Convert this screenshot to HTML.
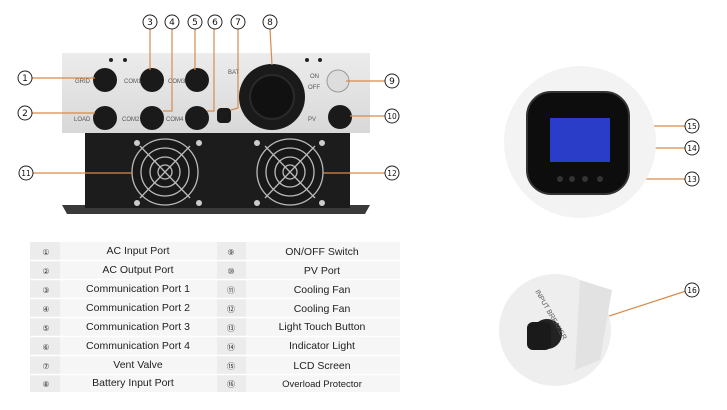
<!DOCTYPE html>
<html><head><meta charset="utf-8"><style>
html,body{margin:0;padding:0;background:#fff;}
svg{display:block;font-family:"Liberation Sans",sans-serif;}
</style></head><body>
<svg width="727" height="410" viewBox="0 0 727 410" xmlns="http://www.w3.org/2000/svg">
<defs>
<radialGradient id="fan" cx="50%" cy="50%" r="50%"><stop offset="0" stop-color="#222"/><stop offset="1" stop-color="#111"/></radialGradient>
<linearGradient id="panel" x1="0" y1="0" x2="0" y2="1"><stop offset="0" stop-color="#ececec"/><stop offset="1" stop-color="#d8d8d8"/></linearGradient>
</defs>
<!-- base -->
<polygon points="62,205 370,205 365,214 67,214" fill="#3a3a3a"/>
<rect x="85" y="133" width="265" height="75" fill="#1c1c1c"/>
<rect x="62" y="53" width="308" height="80" fill="url(#panel)"/>
<circle cx="111" cy="60" r="2" fill="#222"/><circle cx="125" cy="60" r="2" fill="#222"/>
<circle cx="307" cy="60" r="2" fill="#222"/><circle cx="320" cy="60" r="2" fill="#222"/>
<!-- fans -->
<g stroke="#bbb" stroke-width="1.3" fill="none">
<circle cx="165" cy="172" r="33" fill="#181818"/><circle cx="165" cy="172" r="24"/><circle cx="165" cy="172" r="15"/><circle cx="165" cy="172" r="7"/>
<line x1="140" y1="146" x2="190" y2="198"/><line x1="190" y1="146" x2="140" y2="198"/>
<circle cx="290" cy="172" r="33" fill="#181818"/><circle cx="290" cy="172" r="24"/><circle cx="290" cy="172" r="15"/><circle cx="290" cy="172" r="7"/>
<line x1="265" y1="146" x2="315" y2="198"/><line x1="315" y1="146" x2="265" y2="198"/>
</g>
<g fill="#ccc"><circle cx="137" cy="143" r="3"/><circle cx="199" cy="143" r="3"/><circle cx="137" cy="203" r="3"/><circle cx="199" cy="203" r="3"/>
<circle cx="257" cy="143" r="3"/><circle cx="322" cy="143" r="3"/><circle cx="257" cy="203" r="3"/><circle cx="322" cy="203" r="3"/></g>
<!-- ports -->
<g fill="#1a1a1a">
<circle cx="105" cy="80" r="12"/><circle cx="152" cy="80" r="12"/><circle cx="197" cy="80" r="12"/>
<circle cx="105" cy="118" r="12"/><circle cx="152" cy="118" r="12"/><circle cx="197" cy="118" r="12"/>
<rect x="217" y="108" width="14" height="15" rx="4"/>
<circle cx="272" cy="97" r="33"/><circle cx="340" cy="117" r="12"/>
</g>
<circle cx="272" cy="97" r="22" fill="#111" stroke="#2a2a2a" stroke-width="2"/>
<circle cx="338" cy="81" r="11" fill="#ddd" stroke="#999"/>
<g font-size="6" fill="#555">
<text x="75" y="83">GRID</text><text x="124" y="83">COM1</text><text x="168" y="83">COM3</text>
<text x="74" y="121">LOAD</text><text x="122" y="121">COM2</text><text x="166" y="121">COM4</text>
<text x="228" y="74">BAT</text><text x="310" y="78">ON</text><text x="308" y="89">OFF</text><text x="308" y="121">PV</text>
</g>
<!-- callout lines -->
<g stroke="#d98a4a" stroke-width="1.2" fill="none">
<line x1="32" y1="78" x2="95" y2="78"/><line x1="32" y1="113" x2="95" y2="113"/>
<line x1="150" y1="29" x2="150" y2="70"/><polyline points="172,29 172,111 163,111"/>
<line x1="195" y1="29" x2="195" y2="70"/><polyline points="214,29 214,111 207,111"/>
<polyline points="238,29 238,108 231,110"/><line x1="270" y1="29" x2="272" y2="65"/>
<line x1="346" y1="81" x2="385" y2="81"/><line x1="350" y1="116" x2="385" y2="116"/>
<line x1="33" y1="173" x2="132" y2="173"/><line x1="323" y1="173" x2="385" y2="173"/>
<line x1="600" y1="126" x2="685" y2="126"/><line x1="622" y1="148" x2="685" y2="148"/>
<line x1="610" y1="179" x2="685" y2="179"/><line x1="548" y1="336" x2="686" y2="291"/>
</g>
<!-- right devices -->
<circle cx="580" cy="142" r="76" fill="#f3f3f3"/>
<rect x="527" y="92" width="102" height="102" rx="24" fill="#0d0d0d" stroke="#333" stroke-width="2"/>
<rect x="550" y="118" width="60" height="44" fill="#2a3dc8"/>
<g fill="#333"><circle cx="560" cy="179" r="3"/><circle cx="572" cy="179" r="3"/><circle cx="585" cy="179" r="3"/><circle cx="600" cy="179" r="3"/></g>
<circle cx="555" cy="330" r="56" fill="#eee"/>
<polygon points="580,280 612,290 600,360 575,370" fill="#e2e2e2"/>
<circle cx="547" cy="334" r="15" fill="#222"/>
<rect x="527" y="322" width="24" height="28" rx="6" fill="#1a1a1a"/>
<text x="530" y="300" font-size="7" fill="#555" transform="rotate(60 540 300)">INPUT BREAKER</text>
<!-- circled numbers -->
<g font-size="11" fill="#111" stroke="none" font-family="'DejaVu Sans',sans-serif" text-anchor="middle">
<g fill="#fff" stroke="#222" stroke-width="1">
<circle cx="25" cy="78" r="7"/><circle cx="25" cy="113" r="7"/><circle cx="150" cy="22" r="7"/><circle cx="172" cy="22" r="7"/><circle cx="195" cy="22" r="7"/><circle cx="215" cy="22" r="7"/><circle cx="238" cy="22" r="7"/><circle cx="270" cy="22" r="7"/><circle cx="392" cy="81" r="7"/><circle cx="392" cy="116" r="7"/><circle cx="26" cy="173" r="7"/><circle cx="392" cy="173" r="7"/><circle cx="692" cy="126" r="7"/><circle cx="692" cy="148" r="7"/><circle cx="692" cy="179" r="7"/><circle cx="692" cy="290" r="7"/>
</g>
<g font-size="9">
<text x="25" y="81">1</text><text x="25" y="116">2</text><text x="150" y="25">3</text><text x="172" y="25">4</text><text x="195" y="25">5</text><text x="215" y="25">6</text><text x="238" y="25">7</text><text x="270" y="25">8</text><text x="392" y="84">9</text>
</g>
<g font-size="7.5">
<text x="392" y="119">10</text><text x="26" y="176">11</text><text x="392" y="176">12</text><text x="692" y="129">15</text><text x="692" y="151">14</text><text x="692" y="182">13</text><text x="692" y="293">16</text>
</g>
</g>
<!-- table -->
<g fill="#ececec">
<rect x="30" y="242" width="370" height="18"/><rect x="30" y="261" width="370" height="18"/><rect x="30" y="280" width="370" height="18"/><rect x="30" y="299" width="370" height="18"/><rect x="30" y="318" width="370" height="18"/><rect x="30" y="337" width="370" height="18"/><rect x="30" y="356" width="370" height="18"/><rect x="30" y="375" width="370" height="17"/>
</g>
<g fill="#f6f6f6"><rect x="60" y="242" width="157" height="150"/><rect x="246" y="242" width="154" height="150"/></g>
<g stroke="#fff" stroke-width="1.5"><line x1="30" y1="260.5" x2="400" y2="260.5"/><line x1="30" y1="279.5" x2="400" y2="279.5"/><line x1="30" y1="298.5" x2="400" y2="298.5"/><line x1="30" y1="317.5" x2="400" y2="317.5"/><line x1="30" y1="336.5" x2="400" y2="336.5"/><line x1="30" y1="355.5" x2="400" y2="355.5"/><line x1="30" y1="374.5" x2="400" y2="374.5"/></g>
<g font-size="8" fill="#333" text-anchor="middle" font-family="'DejaVu Sans',sans-serif">
<text x="46" y="255">①</text><text x="46" y="274">②</text><text x="46" y="293">③</text><text x="46" y="312">④</text><text x="46" y="331">⑤</text><text x="46" y="350">⑥</text><text x="46" y="369">⑦</text><text x="46" y="387">⑧</text>
<text x="231" y="255">⑨</text><text x="231" y="274">⑩</text><text x="231" y="293">⑪</text><text x="231" y="312">⑫</text><text x="231" y="331">⑬</text><text x="231" y="350">⑭</text><text x="231" y="369">⑮</text><text x="231" y="387">⑯</text>
</g>
<g font-size="10.5" fill="#222" text-anchor="middle">
<text x="138" y="254">AC Input Port</text><text x="138" y="273">AC Output Port</text><text x="138" y="292">Communication Port 1</text><text x="138" y="311">Communication Port 2</text><text x="138" y="330">Communication Port 3</text><text x="138" y="349">Communication Port 4</text><text x="138" y="368">Vent Valve</text><text x="133" y="386">Battery Input Port</text>
<text x="322" y="255">ON/OFF Switch</text><text x="322" y="274">PV Port</text><text x="322" y="293">Cooling Fan</text><text x="322" y="312">Cooling Fan</text><text x="322" y="330">Light Touch Button</text><text x="322" y="349">Indicator Light</text><text x="322" y="369">LCD Screen</text><text x="322" y="387" font-size="9.5">Overload Protector</text>
</g>
</svg>
</body></html>
